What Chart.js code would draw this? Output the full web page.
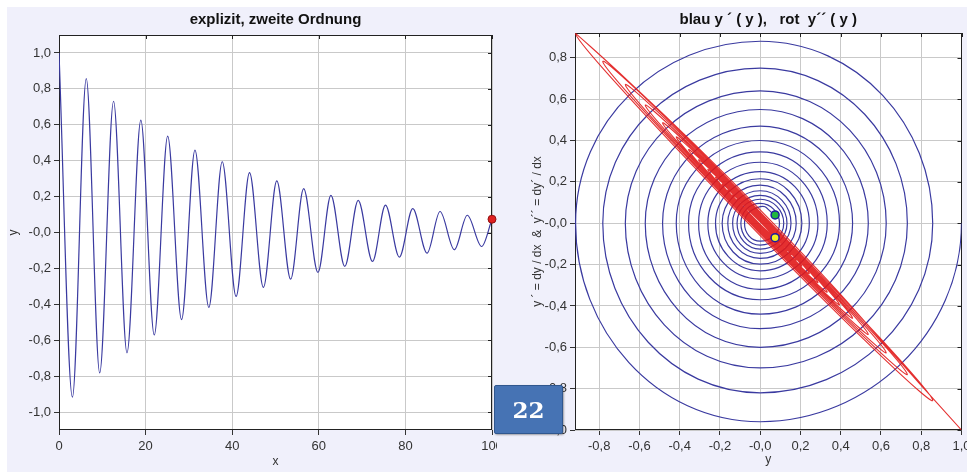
<!DOCTYPE html>
<html>
<head>
<meta charset="utf-8">
<script src="https://cdn.jsdelivr.net/npm/chart.js@4.4.0/dist/chart.umd.min.js"></script>
<style>
    html, body { margin: 0; padding: 0; background: #fff; }
    #page { position: relative; width: 967px; height: 472px; overflow: hidden; }
    #bg { position: absolute; left: 7px; top: 7px; right: 0; bottom: 0; background: #f0f0fb; }
    #left { position: absolute; left: 0; top: 0; }
    #right { position: absolute; left: 497px; top: 0; }
    #pageNo {
        position: absolute; left: 494px; top: 385px; width: 67px; height: 47px;
        background: #4673b4; border: 1px solid #30578e; border-radius: 2px;
        color: #fff; font: bold 23px 'DejaVu Serif', 'Liberation Serif', serif;
        text-align: center; line-height: 47px;
        box-shadow: 1px 1px 2px rgba(0,0,0,0.35);
    }
</style>
</head>
<body>
<div id="page">
    <div id="bg"></div>
    <canvas id="left" width="497" height="472"></canvas>
    <canvas id="right" width="470" height="472"></canvas>
    <div id="pageNo">22</div>
</div>
<script>
// Extrema of y(x) in time order: peak, trough, peak, ...
const extremaX = [0, 3.1, 6.3, 9.4, 12.6, 15.7, 18.9, 22.0, 25.1, 28.3, 31.4, 34.6, 37.7, 40.9, 44.0, 47.2,
                  50.3, 53.5, 56.5, 59.8, 62.8, 66.0, 69.1, 72.4, 75.4, 78.6, 81.7, 85.0, 88.0, 91.3, 94.3, 97.6];
const extremaY = [1.0, -0.917, 0.857, -0.782, 0.731, -0.67, 0.626, -0.571, 0.537, -0.485, 0.459, -0.417, 0.394, -0.356, 0.333, -0.306,
                  0.287, -0.26, 0.244, -0.222, 0.207, -0.189, 0.179, -0.161, 0.153, -0.137, 0.133, -0.115, 0.117, -0.096, 0.096, -0.078];
// last computed point (red marker)
const endX = 100;
const endY = 0.074;

// Phase plot (right): y' where the blue curve crosses y = 0, one after each extremum
const velZero = [-0.96, 0.88, -0.82, 0.75, -0.70, 0.64, -0.60, 0.55, -0.51, 0.47, -0.44, 0.40, -0.37, 0.345, -0.32, 0.295,
                 -0.27, 0.25, -0.23, 0.215, -0.198, 0.184, -0.17, 0.157, -0.146, 0.135, -0.125, 0.116, -0.106, 0.096, -0.087, 0.08];
// y'' at the tips of the red ellipses and where red crosses y = 0
const accTip = [-1.0, 0.917, -0.857, 0.782, -0.731, 0.67, -0.626, 0.571, -0.537, 0.485, -0.459, 0.417, -0.394, 0.356, -0.333, 0.306,
                -0.287, 0.26, -0.244, 0.222, -0.207, 0.189, -0.179, 0.161, -0.153, 0.137, -0.133, 0.115, -0.117, 0.096, -0.096, 0.078];
const accZero = [0.065, -0.06, 0.054, -0.05, 0.047, -0.043, 0.04, -0.036, 0.034, -0.031, 0.029, -0.027, 0.025, -0.023, 0.021, -0.02,
                 0.018, -0.017, 0.016, -0.015, 0.013, -0.012, 0.011, -0.011, 0.01, -0.009, 0.009, -0.008, 0.007, -0.007, 0.006, -0.006];
const endV = 0.04;    // green marker  (y, y')
const endA = -0.07;   // yellow marker (y, y'')

// tick values
const leftXTicks = [0, 20, 40, 60, 80, 100];
const leftYTicks = [-1.0, -0.8, -0.6, -0.4, -0.2, 0, 0.2, 0.4, 0.6, 0.8, 1.0];
const phaseXTicks = [-0.8, -0.6, -0.4, -0.2, 0, 0.2, 0.4, 0.6, 0.8, 1.0];
const phaseYTicks = [-1.0, -0.8, -0.6, -0.4, -0.2, 0, 0.2, 0.4, 0.6, 0.8];

const FONT = "'Liberation Sans', Arial, sans-serif";
const BLUE = 'rgb(58,58,160)';

// Kurven aufbauen
const leftCurve = extremaX.map((x, i) => ({ x: x, y: extremaY[i] }));
leftCurve.push({ x: endX, y: endY });

const bluePath = [];
const redPath = [];
extremaY.forEach((a, i) => {
    bluePath.push({ x: a, y: 0 });
    bluePath.push({ x: 0, y: velZero[i] });
    redPath.push({ x: a, y: accTip[i] });
    redPath.push({ x: 0, y: accZero[i] });
});
bluePath.push({ x: endY, y: endV });
redPath.push({ x: endY, y: endA });

function fmtDec(v) {
    if (Math.abs(v) < 1e-9) return '-0,0';
    return v.toFixed(1).replace('.', ',');
}

function useTicks(values) {
    return function(scale) {
        scale.ticks = values.map(v => ({ value: v }));
    };
}

// weisser Plotbereich, Rahmen und innere Ticks oben/rechts
const framePlugin = {
    id: 'frame',
    beforeDraw(chart) {
        const a = chart.chartArea;
        chart.ctx.save();
        chart.ctx.fillStyle = '#fff';
        chart.ctx.fillRect(a.left, a.top, a.right - a.left, a.bottom - a.top);
        chart.ctx.restore();
    },
    beforeDatasetsDraw(chart) {
        const { ctx, chartArea: a, scales } = chart;
        ctx.save();
        ctx.strokeStyle = '#222';
        ctx.lineWidth = 1;
        ctx.beginPath();
        scales.y.ticks.forEach(t => {
            const py = Math.round(scales.y.getPixelForValue(t.value)) + 0.5;
            ctx.moveTo(a.right - 4, py);
            ctx.lineTo(a.right, py);
        });
        scales.x.ticks.forEach(t => {
            const px = Math.round(scales.x.getPixelForValue(t.value)) + 0.5;
            ctx.moveTo(px, a.top);
            ctx.lineTo(px, a.top + 4);
        });
        ctx.stroke();
        ctx.strokeRect(Math.round(a.left) + 0.5, Math.round(a.top) + 0.5,
                       Math.round(a.right - a.left) - 1, Math.round(a.bottom - a.top) - 1);
        ctx.restore();
    }
};

// Spirale startet bei y' = 0: erste Tangente senkrecht statt schraeg
const startTangentPlugin = {
    id: 'startTangent',
    beforeDatasetDraw(chart, args) {
        const ds = chart.data.datasets[args.index];
        if (!ds.verticalStart) return;
        const line = args.meta.dataset;
        line.updateControlPoints(chart.chartArea, 'x');
        const pts = line.points;
        if (pts.length < 2) return;
        pts[0].cp2x = pts[0].x;
        pts[0].cp2y = pts[0].y + 0.55 * (pts[1].y - pts[0].y);
    }
};

function axis(opts) {
    return Object.assign({
        type: 'linear',
        border: { display: false },
        grid: { color: '#c9c9c9', lineWidth: 1, drawTicks: true, tickLength: 5, tickColor: '#333' }
    }, opts);
}

function tickOpts(cb) {
    return { color: '#333', font: { family: FONT, size: 13 }, padding: 3, autoSkip: false, maxRotation: 0, callback: cb };
}

function axisTitle(text, pad) {
    return { display: true, text: text, color: '#333', font: { family: FONT, size: 12 }, padding: pad };
}

function titleOpts(text, padTop, padBottom) {
    return {
        display: true, text: text, fullSize: false, color: '#111',
        font: { family: FONT, size: 15, weight: 'bold' },
        padding: { top: padTop, bottom: padBottom }
    };
}

// linkes Diagramm: y(x)
new Chart(document.getElementById('left'), {
    type: 'scatter',
    data: {
        datasets: [
            {
                data: [{ x: endX, y: endY }],
                pointRadius: 4, pointBackgroundColor: '#e02020', pointBorderColor: '#901010',
                pointBorderWidth: 1, clip: false
            },
            {
                data: leftCurve, showLine: true, pointRadius: 0,
                borderColor: BLUE, borderWidth: 1.2, cubicInterpolationMode: 'monotone'
            }
        ]
    },
    options: {
        responsive: false,
        animation: false,
        devicePixelRatio: 1,
        layout: { padding: { left: 0, right: 4, top: 0, bottom: 0 } },
        plugins: {
            legend: { display: false },
            tooltip: { enabled: false },
            title: titleOpts('explizit, zweite Ordnung', 11, 6)
        },
        scales: {
            x: axis({
                min: 0, max: 100,
                ticks: Object.assign(tickOpts(v => String(v)), { padding: 4 }),
                title: axisTitle('x', { top: 0, bottom: 3 }),
                afterBuildTicks: useTicks(leftXTicks),
                afterFit: s => { s.height = 42; s.paddingLeft = 0; s.paddingRight = 0; }
            }),
            y: axis({
                min: -1.1, max: 1.1,
                ticks: tickOpts(fmtDec),
                title: axisTitle('y', { top: 6, bottom: 0 }),
                afterBuildTicks: useTicks(leftYTicks),
                afterFit: s => { s.width = 59; s.paddingTop = 0; s.paddingBottom = 0; }
            })
        }
    },
    plugins: [framePlugin]
});

// rechtes Diagramm: Phasenbild
new Chart(document.getElementById('right'), {
    type: 'scatter',
    data: {
        datasets: [
            {
                data: [{ x: endY, y: endV }],
                pointRadius: 4, pointBackgroundColor: '#20b840', pointBorderColor: '#1c1ca0', pointBorderWidth: 1.5
            },
            {
                data: [{ x: endY, y: endA }],
                pointRadius: 4, pointBackgroundColor: '#f2f020', pointBorderColor: '#1c1ca0', pointBorderWidth: 1.5
            },
            {
                data: redPath, showLine: true, pointRadius: 0,
                borderColor: 'rgba(225,25,25,0.9)', borderWidth: 1.1, tension: 0.55
            },
            {
                data: bluePath, showLine: true, pointRadius: 0, verticalStart: true,
                borderColor: BLUE, borderWidth: 1.2, tension: 0.55
            }
        ]
    },
    options: {
        responsive: false,
        animation: false,
        devicePixelRatio: 1,
        layout: { padding: { left: 0, right: 5, top: 0, bottom: 0 } },
        plugins: {
            legend: { display: false },
            tooltip: { enabled: false },
            title: titleOpts('blau y \u00b4 ( y ),   rot  y\u00b4\u00b4 ( y )', 11, 4)
        },
        scales: {
            x: axis({
                min: -0.92, max: 1.0,
                ticks: Object.assign(tickOpts(fmtDec), { padding: 4 }),
                title: axisTitle('y', { top: 0, bottom: 5 }),
                afterBuildTicks: useTicks(phaseXTicks),
                afterFit: s => { s.height = 42; s.paddingLeft = 0; s.paddingRight = 0; }
            }),
            y: axis({
                min: -1.0, max: 0.92,
                ticks: tickOpts(fmtDec),
                title: axisTitle('y \u00b4 = dy / dx  &  y\u00b4\u00b4 = dy\u00b4 / dx', { top: 33, bottom: 0 }),
                afterBuildTicks: useTicks(phaseYTicks),
                afterFit: s => { s.width = 78; s.paddingTop = 0; s.paddingBottom = 0; }
            })
        }
    },
    plugins: [framePlugin, startTangentPlugin]
});
</script>
</body>
</html>
